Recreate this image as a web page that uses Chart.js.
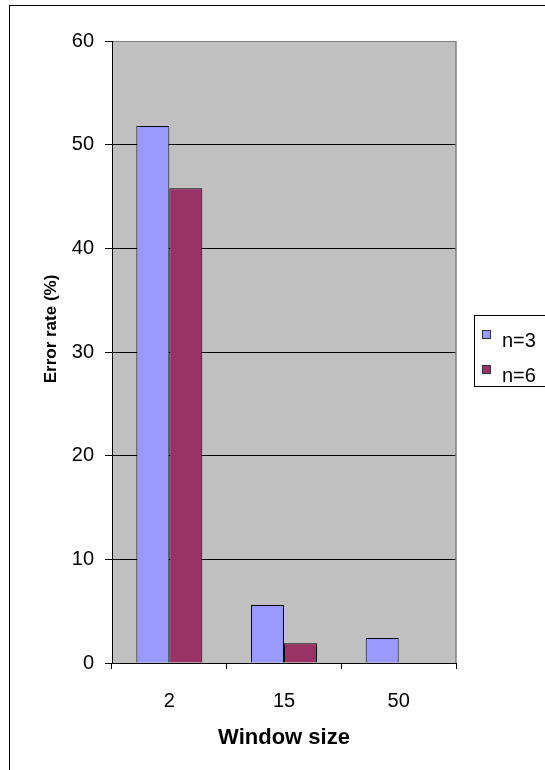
<!DOCTYPE html>
<html>
<head>
<meta charset="utf-8">
<script src="https://cdn.jsdelivr.net/npm/chart.js@4"></script>
<style>
    html, body { margin: 0; padding: 0; background: #fff; }
    #wrap { width: 545px; height: 770px; position: relative; }
</style>
</head>
<body>
<div id="wrap"><canvas id="errorRateChart"></canvas></div>
<script>
// chart data
const windowSizes = ['2', '15', '50'];
const seriesLabels = ['n=3', 'n=6'];
const errorN3 = [51.8, 5.6, 2.4];
const errorN6 = [45.8, 1.9, 0];
const seriesColors = ['#9999FF', '#993366'];
const yMin = 0, yMax = 60, yStep = 10;
const xTitle = 'Window size';
const yTitle = 'Error rate (%)';

Chart.defaults.font.family = '"Liberation Sans", Arial, sans-serif';
Chart.defaults.color = '#000';

// grey plot area + outer frame
const backgroundPlugin = {
    id: 'backgroundPlugin',
    beforeDraw(chart) {
        const { ctx, chartArea: a } = chart;
        ctx.save();
        ctx.fillStyle = '#C0C0C0';
        ctx.fillRect(a.left, a.top, a.right - a.left, a.bottom - a.top);
        ctx.strokeStyle = '#000';
        ctx.lineWidth = 1;
        ctx.strokeRect(9.5, 5.5, 700, 900);
        ctx.restore();
    },
    beforeDatasetsDraw(chart) {
        const { ctx, chartArea: a } = chart;
        ctx.save();
        ctx.strokeStyle = '#808080';
        ctx.lineWidth = 1.5;
        ctx.beginPath();
        ctx.moveTo(a.right, a.top);
        ctx.lineTo(a.right, a.bottom);
        ctx.stroke();
        ctx.restore();
    }
};

// rotated y title, boxed legend on the right
const labelsPlugin = {
    id: 'labelsPlugin',
    afterDraw(chart) {
        const { ctx } = chart;
        ctx.save();
        ctx.fillStyle = '#000';
        ctx.font = 'bold 17px "Liberation Sans", Arial, sans-serif';
        ctx.textAlign = 'center';
        ctx.textBaseline = 'middle';
        ctx.translate(51, 329);
        ctx.rotate(-Math.PI / 2);
        ctx.fillText(yTitle, 0, 0);
        ctx.restore();

        ctx.save();
        ctx.strokeStyle = '#000';
        ctx.lineWidth = 1;
        ctx.strokeRect(474.5, 315.5, 80, 71);
        ctx.font = '20px "Liberation Sans", Arial, sans-serif';
        ctx.textAlign = 'left';
        ctx.textBaseline = 'alphabetic';
        chart.data.datasets.forEach((ds, i) => {
            const y = 330.5 + i * 35;
            ctx.fillStyle = ds.backgroundColor;
            ctx.fillRect(482.5, y, 8, 8);
            ctx.strokeStyle = '#333';
            ctx.strokeRect(482.5, y, 8, 8);
            ctx.fillStyle = '#000';
            ctx.fillText(ds.label, 502, 347 + i * 35);
        });
        ctx.restore();
    }
};

const ctx = document.getElementById('errorRateChart').getContext('2d');
new Chart(ctx, {
    type: 'bar',
    data: {
        labels: windowSizes,
        datasets: [
            {
                label: seriesLabels[0],
                data: errorN3,
                backgroundColor: seriesColors[0],
                borderColor: '#000',
                borderWidth: 1
            },
            {
                label: seriesLabels[1],
                data: errorN6,
                backgroundColor: seriesColors[1],
                borderColor: '#000',
                borderWidth: 1
            }
        ]
    },
    options: {
        responsive: true,
        maintainAspectRatio: false,
        animation: false,
        datasets: {
            bar: {
                barPercentage: 1,
                categoryPercentage: 0.575
            }
        },
        layout: {
            padding: { top: 41, right: 89, bottom: 15, left: 0 }
        },
        plugins: {
            legend: { display: false },
            tooltip: { enabled: false }
        },
        scales: {
            x: {
                grid: {
                    offset: true,
                    drawOnChartArea: false,
                    color: '#000',
                    tickLength: 6
                },
                border: { color: '#000', width: 1 },
                ticks: {
                    padding: 20,
                    font: { size: 20 },
                    color: '#000'
                },
                title: {
                    display: true,
                    text: xTitle,
                    font: { size: 22, weight: 'bold' },
                    color: '#000'
                },
                afterFit(scale) {
                    scale.height = 92;
                }
            },
            y: {
                min: yMin,
                max: yMax,
                ticks: {
                    stepSize: yStep,
                    padding: 11,
                    font: { size: 20 },
                    color: '#000'
                },
                grid: {
                    color: (c) => (c.tick && c.tick.value === yMax ? '#808080' : '#000'),
                    tickColor: '#000',
                    tickLength: 7
                },
                border: { color: '#000', width: 1 },
                afterFit(scale) {
                    scale.width = 112;
                }
            }
        }
    },
    plugins: [backgroundPlugin, labelsPlugin]
});
</script>
</body>
</html>
